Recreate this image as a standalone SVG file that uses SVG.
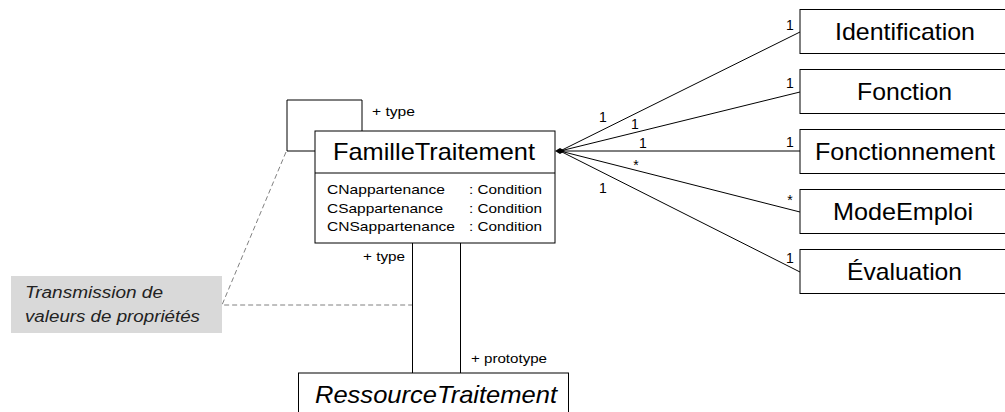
<svg xmlns="http://www.w3.org/2000/svg" width="1005" height="412" viewBox="0 0 1005 412">
<style>
.box{fill:#fff;stroke:#000;stroke-width:1}
.ln{fill:none;stroke:#000;stroke-width:1}
.dash{fill:none;stroke:#808080;stroke-width:1;stroke-dasharray:5 3}
.big{font-family:"Liberation Sans",Arial,sans-serif;font-size:24px;fill:#000}
.attr{font-family:"Liberation Sans",Arial,sans-serif;font-size:13px;fill:#000}
.mult{font-family:"Liberation Sans",Arial,sans-serif;font-size:14px;fill:#000}
.role{font-family:"Liberation Sans",Arial,sans-serif;font-size:12px;fill:#000}
.note{font-family:"Liberation Sans",Arial,sans-serif;font-size:16px;font-style:italic;fill:#222}
</style>
<rect width="1005" height="412" fill="#fff"/>
<g id="connectors">
  <polyline class="ln" points="315,151 287,151 287,100 362,100 362,131"/>
  <line class="ln" x1="560" y1="151" x2="800" y2="32"/>
  <line class="ln" x1="560" y1="151" x2="800" y2="92"/>
  <line class="ln" x1="560" y1="151" x2="800" y2="151"/>
  <line class="ln" x1="560" y1="151" x2="800" y2="212"/>
  <line class="ln" x1="560" y1="151" x2="800" y2="272"/>
  <polygon points="555,151 560,148 565,151 560,154" fill="#000"/>
  <line class="ln" x1="412.5" y1="243" x2="412.5" y2="373"/>
  <line class="ln" x1="460.5" y1="243" x2="460.5" y2="373"/>
  <polyline class="dash" points="286,152 222,305 412,305"/>
  <text class="role" x="372" y="116" textLength="43" lengthAdjust="spacingAndGlyphs">+ type</text>
  <text class="role" x="363" y="261" textLength="42" lengthAdjust="spacingAndGlyphs">+ type</text>
  <text class="role" x="471" y="363" textLength="76" lengthAdjust="spacingAndGlyphs">+ prototype</text>
  <text class="mult" x="603" y="122" text-anchor="middle">1</text>
  <text class="mult" x="635" y="129" text-anchor="middle">1</text>
  <text class="mult" x="643" y="148" text-anchor="middle">1</text>
  <text class="mult" x="636" y="170" text-anchor="middle">*</text>
  <text class="mult" x="603" y="193" text-anchor="middle">1</text>
  <text class="mult" x="790" y="30" text-anchor="middle">1</text>
  <text class="mult" x="790" y="88" text-anchor="middle">1</text>
  <text class="mult" x="790" y="147" text-anchor="middle">1</text>
  <text class="mult" x="790" y="205" text-anchor="middle">*</text>
  <text class="mult" x="790" y="263" text-anchor="middle">1</text>
</g>
<g id="FamilleTraitement">
  <rect class="box" x="315" y="131" width="240" height="112"/>
  <line class="ln" x1="315" y1="173" x2="555" y2="173"/>
  <text class="big" x="333" y="160" textLength="202" lengthAdjust="spacingAndGlyphs">FamilleTraitement</text>
  <text class="attr" x="327" y="194" textLength="118" lengthAdjust="spacingAndGlyphs">CNappartenance</text>
  <text class="attr" x="469" y="194" textLength="73" lengthAdjust="spacingAndGlyphs">: Condition</text>
  <text class="attr" x="327" y="212.5" textLength="116" lengthAdjust="spacingAndGlyphs">CSappartenance</text>
  <text class="attr" x="469" y="212.5" textLength="73" lengthAdjust="spacingAndGlyphs">: Condition</text>
  <text class="attr" x="327" y="231" textLength="128" lengthAdjust="spacingAndGlyphs">CNSappartenance</text>
  <text class="attr" x="469" y="231" textLength="73" lengthAdjust="spacingAndGlyphs">: Condition</text>
</g>
<g id="Identification">
  <rect class="box" x="800" y="9.5" width="210" height="44"/>
  <text class="big" x="835" y="40" textLength="140" lengthAdjust="spacingAndGlyphs">Identification</text>
</g>
<g id="Fonction">
  <rect class="box" x="800" y="69.5" width="210" height="44"/>
  <text class="big" x="857" y="100" textLength="95" lengthAdjust="spacingAndGlyphs">Fonction</text>
</g>
<g id="Fonctionnement">
  <rect class="box" x="800" y="129.5" width="210" height="44"/>
  <text class="big" x="815" y="160" textLength="180" lengthAdjust="spacingAndGlyphs">Fonctionnement</text>
</g>
<g id="ModeEmploi">
  <rect class="box" x="800" y="189.5" width="210" height="44"/>
  <text class="big" x="833" y="220" textLength="140" lengthAdjust="spacingAndGlyphs">ModeEmploi</text>
</g>
<g id="Evaluation">
  <rect class="box" x="800" y="249.5" width="210" height="44"/>
  <text class="big" x="847" y="280" textLength="115" lengthAdjust="spacingAndGlyphs">Évaluation</text>
</g>
<g id="RessourceTraitement">
  <rect class="box" x="298.5" y="373" width="270" height="60"/>
  <text class="big" x="315" y="403" font-style="italic" textLength="242" lengthAdjust="spacingAndGlyphs">RessourceTraitement</text>
</g>
<g id="note">
  <rect x="11" y="276" width="211" height="57" fill="#d9d9d9"/>
  <text class="note" x="25" y="298" textLength="138" lengthAdjust="spacingAndGlyphs">Transmission de</text>
  <text class="note" x="25" y="322" textLength="175" lengthAdjust="spacingAndGlyphs">valeurs de propriétés</text>
</g>
</svg>
